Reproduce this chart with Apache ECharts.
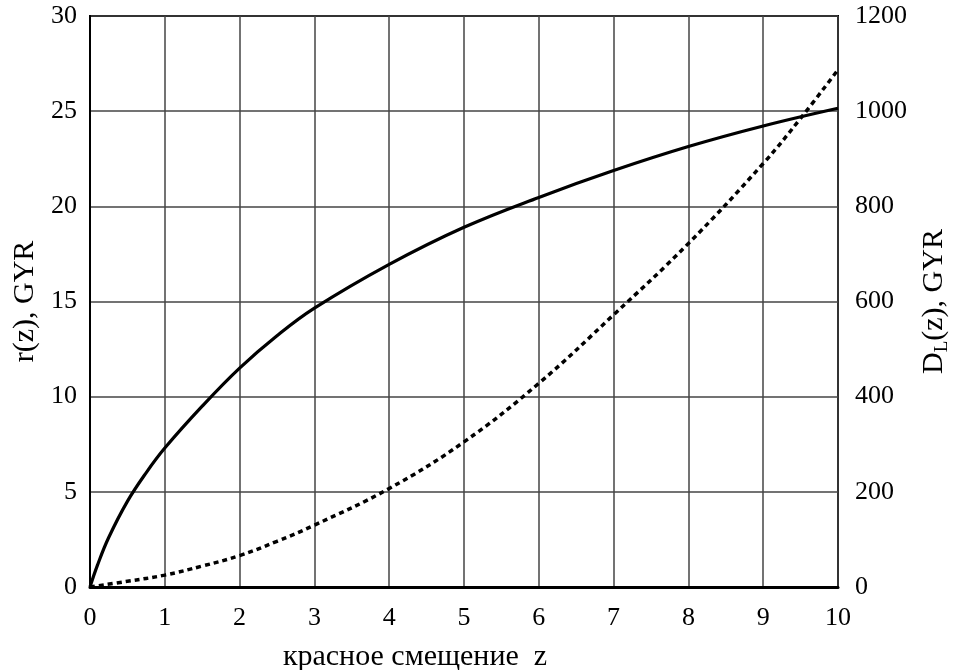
<!DOCTYPE html>
<html>
<head>
<meta charset="utf-8">
<script src="https://cdn.jsdelivr.net/npm/echarts@6/dist/echarts.min.js"></script>
<style>html,body{margin:0;padding:0;background:#fff;}#c{width:958px;height:670px;}</style>
</head>
<body>
<div id="c"></div>
<script>
// Data
const zR = [0, 0.1, 0.25, 0.5, 0.75, 1, 1.5, 2, 2.5, 3, 4, 5, 6, 7, 8, 9, 10];
const rValues = [0, 1.15, 2.6, 4.5, 6.0, 7.3, 9.5, 11.5, 13.2, 14.65, 16.95, 18.9, 20.47, 21.88, 23.14, 24.22, 25.15];
const zD = [0, 0.5, 1, 1.5, 2, 2.5, 3, 4, 5, 6, 7, 8, 9, 9.5, 10];
const dValues = [0, 12, 25, 44, 66, 96, 130, 207, 305, 428, 572, 722, 890, 985, 1087];
const xTicks = [0, 1, 2, 3, 4, 5, 6, 7, 8, 9, 10];
const leftTicks = [0, 5, 10, 15, 20, 25, 30];
const rightTicks = [0, 200, 400, 600, 800, 1000, 1200];

const FONT = '"Liberation Serif", "DejaVu Serif", serif';
const chart = echarts.init(document.getElementById('c'), null, {renderer: 'canvas'});
chart.setOption({
  backgroundColor: '#fff',
  animation: false,
  grid: {left: 90, right: 120, top: 16, bottom: 83, outerBoundsMode: 'none', containLabel: false,
    show: true, borderColor: '#000', borderWidth: 2, backgroundColor: 'transparent'},
  xAxis: [{
    type: 'value', min: xTicks[0], max: xTicks[xTicks.length - 1], interval: 1,
    name: 'красное смещение  z', nameLocation: 'middle', nameGap: 55,
    nameTextStyle: {fontFamily: FONT, fontSize: 30, color: '#000', padding: [0, 98, 0, 0]},
    axisLine: {show: true, lineStyle: {color: '#000', width: 2}},
    axisTick: {show: false},
    axisLabel: {fontFamily: FONT, fontSize: 26, color: '#000', margin: 18, formatter: v => String(v)},
    splitLine: {show: true, lineStyle: {color: '#444', width: 1.5}}
  }, {
    type: 'value', position: 'top', min: xTicks[0], max: xTicks[xTicks.length - 1], interval: 1,
    axisLine: {show: true, lineStyle: {color: '#000', width: 3}},
    axisTick: {show: false}, axisLabel: {show: false}, splitLine: {show: false}
  }],
  yAxis: [{
    type: 'value', position: 'left', min: leftTicks[0], max: leftTicks[leftTicks.length - 1], interval: 5,
    name: 'r(z), GYR', nameLocation: 'middle', nameGap: 48, nameRotate: 90,
    nameTextStyle: {fontFamily: FONT, fontSize: 30, color: '#000'},
    axisLine: {show: true, lineStyle: {color: '#000', width: 2}},
    axisTick: {show: false},
    axisLabel: {fontFamily: FONT, fontSize: 26, color: '#000', margin: 13, formatter: v => String(v)},
    splitLine: {show: true, lineStyle: {color: '#444', width: 1.5}}
  }, {
    type: 'value', position: 'right', min: rightTicks[0], max: rightTicks[rightTicks.length - 1], interval: 200,
    name: 'D{sub|L}(z), GYR', nameLocation: 'middle', nameGap: 79, nameRotate: 90,
    nameTextStyle: {fontFamily: FONT, fontSize: 30, color: '#000',
      rich: {sub: {fontFamily: FONT, fontSize: 19, color: '#000', verticalAlign: 'bottom', padding: [16, 0, 0, 0]}}},
    axisLine: {show: true, lineStyle: {color: '#000', width: 2}},
    axisTick: {show: false},
    axisLabel: {fontFamily: FONT, fontSize: 26, color: '#000', margin: 17, formatter: v => String(v)},
    splitLine: {show: false}
  }],
  series: [{
    name: 'r', type: 'line', yAxisIndex: 0, showSymbol: false, smooth: 0.4,
    data: zR.map((z, i) => [z, rValues[i]]),
    lineStyle: {color: '#000', width: 3.2}
  }, {
    name: 'D', type: 'line', yAxisIndex: 1, showSymbol: false, smooth: 0.4,
    data: zD.map((z, i) => [z, dValues[i]]),
    lineStyle: {color: '#000', width: 3.5, type: [5, 4]}
  }]
});
</script>
</body>
</html>
